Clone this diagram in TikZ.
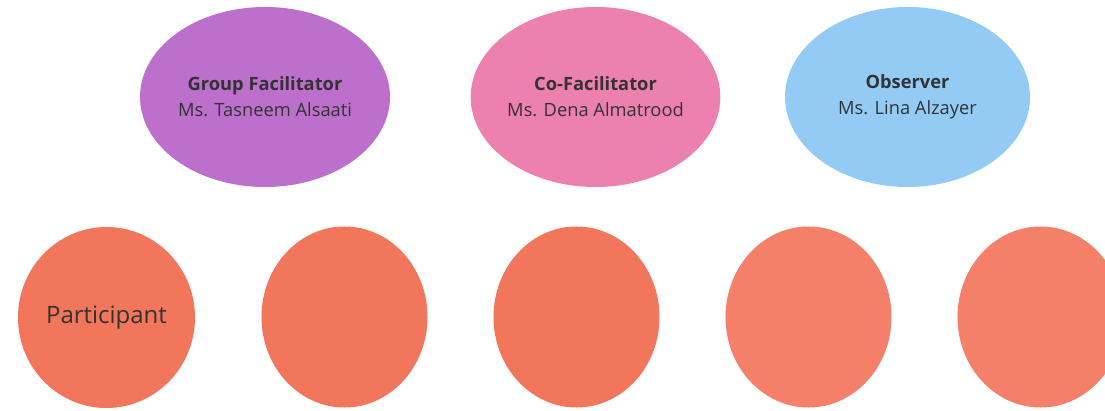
\documentclass[tikz,border=0pt]{standalone}
\usepackage{fontspec}
\setmainfont{Open Sans}
\usetikzlibrary{shapes.geometric}
\definecolor{purp}{HTML}{BC6FCB}
\definecolor{pinkc}{HTML}{EC80AE}
\definecolor{bluec}{HTML}{93CBF5}
\definecolor{salA}{HTML}{F2765C}
\definecolor{salB}{HTML}{F4806A}
\definecolor{txt}{HTML}{333333}
\begin{document}
\begin{tikzpicture}[x=1pt,y=-1pt,
  role/.style={ellipse,draw=none,inner sep=0pt,minimum width=250pt,minimum height=180pt,align=center,text=txt,font=\fontsize{18.3}{26}\selectfont},
  part/.style={ellipse,draw=none,inner sep=0pt,minimum width=166pt,minimum height=181pt,text=txt,font=\fontsize{24}{28}\selectfont}]
\useasboundingbox (0,0) rectangle (1105,411);
\node[role,fill=purp] (gf) at (265,97) {\textbf{Group Facilitator}\\Ms. Tasneem Alsaati};
\node[role,fill=pinkc,minimum width=245pt] (cf) at (595.5,97) {\textbf{Co-Facilitator}\\Ms. Dena Almatrood};
\node[role,fill=bluec,minimum width=245pt] (ob) at (907.5,97) {\textbf{Observer}\\Ms. Lina Alzayer};
\node[part,fill=salA,minimum width=177pt] (p1) at (106.5,317.5) {Participant};
\node[part,fill=salA] (p2) at (344.5,317) {};
\node[part,fill=salA] (p3) at (576.5,317) {};
\node[part,fill=salB] (p4) at (808.5,317) {};
\node[part,fill=salB] (p5) at (1040.5,317) {};
\end{tikzpicture}
\end{document}
